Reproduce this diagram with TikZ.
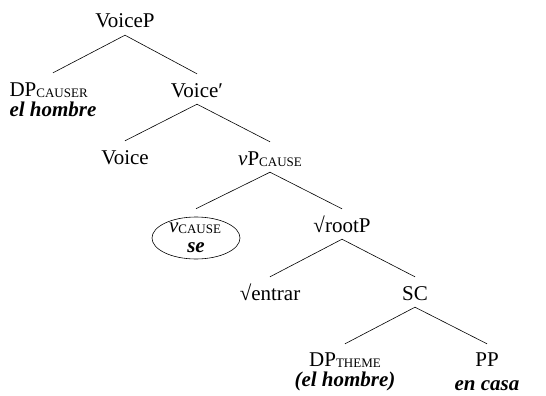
\documentclass[tikz,border=0pt]{standalone}
\usepackage{fontspec}
\setmainfont{Liberation Serif}
\usetikzlibrary{shapes.geometric}

% small-caps style subscript feature labels and bold italic glosses
\newcommand{\feat}[1]{\raisebox{-1pt}{\fontsize{13}{13}\selectfont #1}}
\newcommand{\gloss}[1]{\textbf{\textit{#1}}}

\begin{document}
\begin{tikzpicture}[x=1pt,y=-1pt,
  lbl/.style={anchor=base, inner xsep=0pt, inner ysep=2pt, text height=14pt,
              font=\fontsize{21}{24}\selectfont},
  phrase/.style={lbl, text depth=5pt},
  branch/.style={line width=0.6pt},
  oval/.style={draw, ellipse, line width=0.6pt, minimum width=88pt,
               minimum height=42pt, inner sep=0pt}]
\useasboundingbox (0,0) rectangle (546,396);

% labels
\node[phrase] (voicep)   at (125,28)  {VoiceP};
\node[lbl]    (dpc)      at (53,96)   {\begin{tabular}[t]{@{}l@{}}DP\feat{CAUSER}\\[-4pt]\gloss{el hombre}\end{tabular}};
\node[phrase] (voicebar) at (197,97)  {Voice′};
\node[lbl]    (voice)    at (125,164) {Voice};
\node[phrase] (vp)       at (270,165) {\textit{v}P\feat{CAUSE}};
\node[oval]   (vc)       at (196,238) {};
\node[lbl]    (vhead)    at (195,232) {\textit{v}\feat{CAUSE}};
\node[lbl]    (se)       at (196,252) {\gloss{se}};
\node[phrase] (rootp)    at (342,232) {√rootP};
\node[lbl]    (entrar)   at (270,300) {√entrar};
\node[phrase] (sc)       at (415,300) {SC};
\node[lbl]    (dpt)      at (345,366) {\begin{tabular}[t]{@{}c@{}}DP\feat{THEME}\\[-4pt]\gloss{(el hombre)}\end{tabular}};
\node[lbl]    (pp)       at (487,366) {\begin{tabular}[t]{@{}c@{}}PP\\[0pt]\gloss{en casa}\end{tabular}};

% branches
\draw[branch] (voicep.south)   -- ([yshift=7pt]dpc.north);
\draw[branch] (voicep.south)   -- ([yshift=7pt]voicebar.north);
\draw[branch] (voicebar.south) -- ([yshift=7pt]voice.north);
\draw[branch] (voicebar.south) -- ([yshift=7pt]vp.north);
\draw[branch] (vp.south)       -- ([yshift=8pt]vc.north);
\draw[branch] (vp.south)       -- ([yshift=7pt]rootp.north);
\draw[branch] (rootp.south)    -- ([yshift=7pt]entrar.north);
\draw[branch] (rootp.south)    -- ([yshift=7pt]sc.north);
\draw[branch] (sc.south)       -- ([yshift=6pt]dpt.north);
\draw[branch] (sc.south)       -- ([yshift=6pt]pp.north);
\end{tikzpicture}
\end{document}
